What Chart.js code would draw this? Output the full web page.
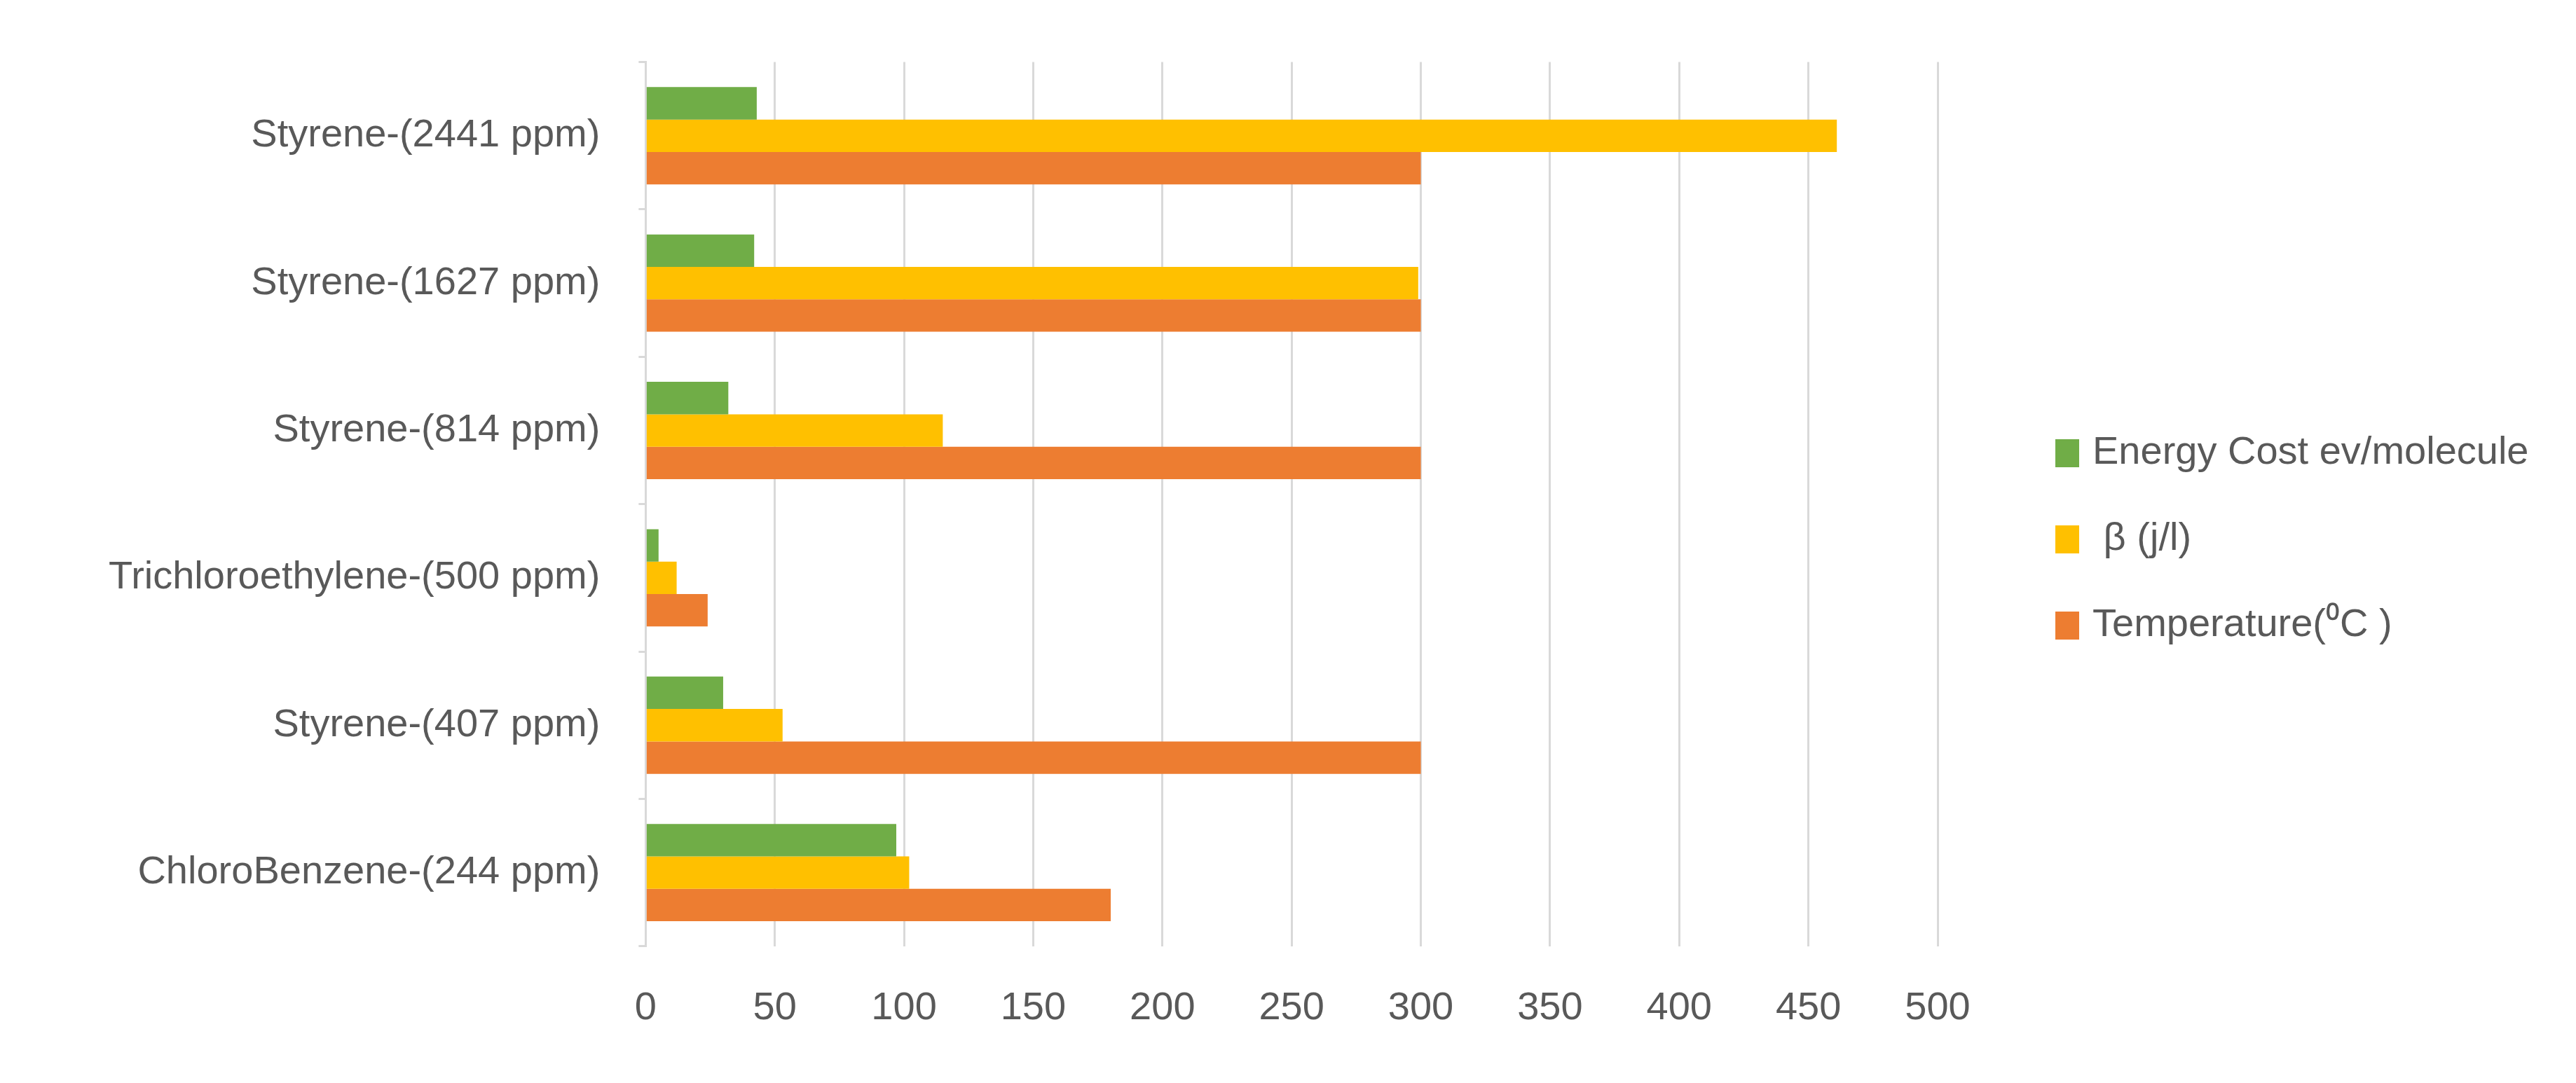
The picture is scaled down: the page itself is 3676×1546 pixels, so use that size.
<!DOCTYPE html>
<html><head><meta charset="utf-8">
<script src="https://cdn.jsdelivr.net/npm/chart.js@4"></script>
<style>html,body{margin:0;padding:0;background:#fff}#w{width:3676px;height:1546px}</style>
</head><body><div id="w"><canvas id="c"></canvas></div>
<script>
const categories=["Styrene-(2441 ppm)","Styrene-(1627 ppm)","Styrene-(814 ppm)","Trichloroethylene-(500 ppm)","Styrene-(407 ppm)","ChloroBenzene-(244 ppm)"];
const energyCost=[43,42,32,5,30,97];
const beta=[461,299,115,12,53,102];
const temperature=[300,300,300,24,300,180];
const seriesNames=["Energy Cost ev/molecule"," \u03b2 (j/l)","Temperature(\u2070C )"];
const xTicks=[0,50,100,150,200,250,300,350,400,450,500];
const font={family:"'Liberation Sans',sans-serif",size:56};
const legendPlugin={id:'customLegend',afterDraw(chart){
  const ctx=chart.ctx;ctx.save();
  ctx.font=font.size+"px "+font.family;ctx.textBaseline='middle';ctx.textAlign='left';
  const ys=[647,770,893];
  chart.data.datasets.forEach((ds,i)=>{
    ctx.fillStyle=ds.backgroundColor;ctx.fillRect(2933,ys[i]-20,34,40);
    ctx.fillStyle='#595959';ctx.fillText(ds.label,2986,ys[i]);
  });
  ctx.restore();}};
new Chart(document.getElementById('c'),{
type:'bar',
data:{labels:categories,datasets:[
{label:seriesNames[0],data:energyCost,backgroundColor:'#70ad47'},
{label:seriesNames[1],data:beta,backgroundColor:'#ffc000'},
{label:seriesNames[2],data:temperature,backgroundColor:'#ed7d31'}]},
plugins:[legendPlugin],
options:{indexAxis:'y',responsive:true,maintainAspectRatio:false,animation:false,
categoryPercentage:0.66,barPercentage:1,
layout:{padding:{top:37,bottom:18,left:100,right:911}},
plugins:{legend:{display:false},tooltip:{enabled:false}},
scales:{
x:{min:xTicks[0],max:xTicks[xTicks.length-1],afterBuildTicks(s){s.ticks=xTicks.map(v=>({value:v}));},
 ticks:{font:font,color:'#595959',padding:55},grid:{color:'#d9d9d9',lineWidth:3,drawTicks:false},border:{display:false}},
y:{ticks:{font:font,color:'#595959',padding:55},grid:{drawOnChartArea:false,color:'#d9d9d9',lineWidth:3,tickLength:10},border:{color:'#d9d9d9',width:3}}
}}});
</script></body></html>
